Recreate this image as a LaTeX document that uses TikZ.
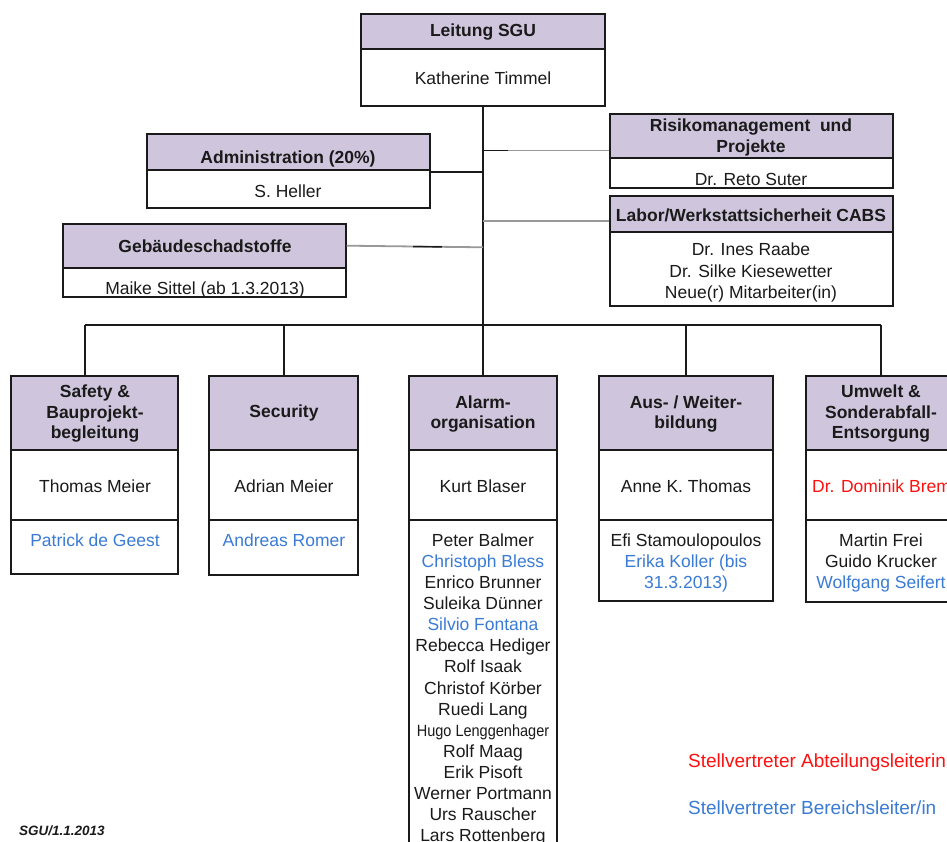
\documentclass[tikz,border=0pt]{standalone}
\usepackage{fontspec}
\usepackage{graphicx}
\setmainfont{Liberation Sans}
\usetikzlibrary{fit}
\definecolor{hdr}{HTML}{CFC6DD}
\definecolor{dep}{HTML}{3A7BD5}
\definecolor{abt}{HTML}{FF1010}
\definecolor{edge}{HTML}{1A1A1A}
\definecolor{ink}{HTML}{1A1A1A}
\definecolor{grayline}{HTML}{999999}
\tikzset{
 hbox/.style={draw=edge, line width=1.4pt, fill=hdr, inner sep=0pt},
 bbox/.style={draw=edge, line width=1.4pt, fill=white, inner sep=0pt},
 txt/.style={font=\fontsize{17.5}{21}\selectfont, align=center, inner sep=0pt, text=ink},
 hdtxt/.style={font=\fontsize{17.5}{20.5}\selectfont\bfseries, align=center, inner sep=0pt, text=ink},
 blu/.style={text=dep},
 conn/.style={draw=edge, line width=1.4pt},
 gconn/.style={draw=grayline, line width=1.8pt},
 legend/.style={font=\fontsize{19}{23}\selectfont, inner sep=0pt, anchor=west},
}
\newcommand{\dep}[1]{\textcolor{dep}{#1}}
\begin{document}
\begin{tikzpicture}[x=1pt,y=-1pt]
\useasboundingbox (0,0) rectangle (947,842);
\clip (0,0) rectangle (947,842);
\fill[white] (0,0) rectangle (947,842);

% ---------- boxes: top part ----------
\node[hbox, fit={(361,14) (605,49)}] (topH) {};
\node[bbox, fit={(361,49) (605,106)}] (topB) {};
\node[hdtxt] (topHt) at (483,32) {Leitung SGU};
\node[txt] (topBt) at (483,78) {Katherine Timmel};

\node[hbox, fit={(610,114) (893,158)}] (riskH) {};
\node[bbox, fit={(610,158) (893,188)}] (riskB) {};
\node[hdtxt] (riskHt) at (751,137.5) {Risikomanagement\ \ und\\Projekte};
\node[txt] (riskBt) at (751,179.5) {Dr. Reto Suter};

\node[hbox, fit={(610,196) (893,232)}] (labH) {};
\node[bbox, fit={(610,232) (893,306)}] (labB) {};
\node[hdtxt] (labHt) at (751,215) {Labor/Werkstattsicherheit CABS};
\node[txt, font=\fontsize{17.5}{21.5}\selectfont] (labBt) at (751,272.5) {Dr. Ines Raabe\\Dr. Silke Kiesewetter\\Neue(r) Mitarbeiter(in)};

\node[hbox, fit={(147,134) (430,170)}] (admH) {};
\node[bbox, fit={(147,170) (430,208)}] (admB) {};
\node[hdtxt] (admHt) at (288,159) {Administration (20\%)};
\node[txt] (admBt) at (288,191.5) {S. Heller};

\node[hbox, fit={(63,224) (346,268)}] (gebH) {};
\node[bbox, fit={(63,268) (346,297)}] (gebB) {};
\node[hdtxt] (gebHt) at (205,246) {Gebäudeschadstoffe};
\node[txt] (gebBt) at (205,289.5) {Maike Sittel (ab 1.3.2013)};

% ---------- connectors ----------
\coordinate (busC) at (483,325);
\coordinate (busL) at (85,325);
\coordinate (busS) at (284,325);
\coordinate (busR) at (881,325);
\draw[conn] (topB.south) -- (busC);
\draw[conn] (busL) -- (busR);
\draw[conn] (admB.east |- 0,172) -- (topB.south |- 0,172);
\draw[gconn] (riskH.west |- 0,150.5) -- (topB.south |- 0,150.5);
\draw[conn] (topB.south |- 0,150.5) -- (508,150.5);
\draw[gconn] (labH.west |- 0,221) -- (topB.south |- 0,221);
\draw[gconn] (gebH.east |- 0,245.7) -- (topB.south |- 0,247.3);
\draw[conn] (413,246.6) -- (442,246.9);

% ---------- department boxes ----------
% Safety
\node[hbox, fit={(11,376) (178,450)}] (safH) {};
\node[bbox, fit={(11,450) (178,520)}] (safB) {};
\node[bbox, fit={(11,520) (178,574)}] (safD) {};
\node[hdtxt] (safHt) at (95,414) {Safety \&\\Bauprojekt-\\begleitung};
\node[txt] (safBt) at (95,486) {Thomas Meier};
\node[txt, blu] (safDt) at (95,540) {Patrick de Geest};
% Security
\node[hbox, fit={(209,376) (358,450)}] (secH) {};
\node[bbox, fit={(209,450) (358,520)}] (secB) {};
\node[bbox, fit={(209,520) (358,575)}] (secD) {};
\node[hdtxt] (secHt) at (284,413) {Security};
\node[txt] (secBt) at (284,486) {Adrian Meier};
\node[txt, blu] (secDt) at (284,540) {Andreas Romer};
% Alarm
\node[hbox, fit={(409,376) (557,450)}] (alaH) {};
\node[bbox, fit={(409,450) (557,520)}] (alaB) {};
\node[bbox, fit={(409,520) (557,900)}] (alaD) {};
\node[hdtxt] (alaHt) at (483,414) {Alarm-\\organisation};
\node[txt] (alaBt) at (483,486) {Kurt Blaser};
\node[txt, anchor=north, font=\fontsize{17.5}{21.1}\selectfont] (alaDt) at (483,533.5) {Peter Balmer\\\dep{Christoph Bless}\\Enrico Brunner\\Suleika Dünner\\\dep{Silvio Fontana}\\Rebecca Hediger\\Rolf Isaak\\Christof Körber\\Ruedi Lang\\\scalebox{0.83}[0.93]{Hugo Lenggenhager}\\Rolf Maag\\Erik Pisoft\\Werner Portmann\\Urs Rauscher\\Lars Rottenberg};
% Aus/Weiterbildung
\node[hbox, fit={(599,376) (773,450)}] (ausH) {};
\node[bbox, fit={(599,450) (773,520)}] (ausB) {};
\node[bbox, fit={(599,520) (773,601)}] (ausD) {};
\node[hdtxt] (ausHt) at (686,414) {Aus- / Weiter-\\bildung};
\node[txt] (ausBt) at (686,486) {Anne K. Thomas};
\node[txt, anchor=north] (ausDt) at (686,533.5) {Efi Stamoulopoulos\\\dep{Erika Koller (bis}\\\dep{31.3.2013)}};
% Umwelt
\node[hbox, fit={(806,376) (956,450)}] (umwH) {};
\node[bbox, fit={(806,450) (956,520)}] (umwB) {};
\node[bbox, fit={(806,520) (956,602)}] (umwD) {};
\node[hdtxt] (umwHt) at (881,414) {Umwelt \&\\Sonderabfall-\\Entsorgung};
\node[txt, text=abt, anchor=west] (umwBt) at (812,486) {Dr. Dominik Bremer};
\node[txt, anchor=north] (umwDt) at (881,533.5) {Martin Frei\\Guido Krucker\\\dep{Wolfgang Seifert}};

% drops
\draw[conn] (busL) -- (busL |- safH.north);
\draw[conn] (busS) -- (busS |- secH.north);
\draw[conn] (busC) -- (alaH.north);
\draw[conn] (ausH.north |- busC) -- (ausH.north);
\draw[conn] (busR) -- (busR |- umwH.north);

% ---------- legend ----------
\node[legend, text=abt] (leg1) at (688,763) {Stellvertreter Abteilungsleiterin};
\node[legend, text=dep] (leg2) at (688,808) {Stellvertreter Bereichsleiter/in};
\node[font=\fontsize{13.5}{16}\selectfont\bfseries\itshape, inner sep=0pt, anchor=west, text=ink] (date) at (19,831) {SGU/1.1.2013};
\end{tikzpicture}
\end{document}
